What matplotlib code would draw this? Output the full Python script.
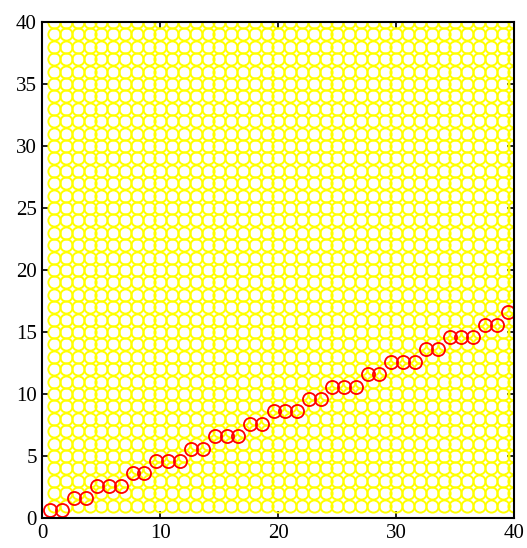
import matplotlib
matplotlib.use("Agg")
import matplotlib.pyplot as plt

# background grid of yellow circles (integer positions 1..40)
grid_x = [1, 2, 3, 4, 5, 6, 7, 8, 9, 10, 11, 12, 13, 14, 15, 16, 17, 18, 19, 20,
          21, 22, 23, 24, 25, 26, 27, 28, 29, 30, 31, 32, 33, 34, 35, 36, 37, 38, 39, 40]
grid_y = [1, 2, 3, 4, 5, 6, 7, 8, 9, 10, 11, 12, 13, 14, 15, 16, 17, 18, 19, 20,
          21, 22, 23, 24, 25, 26, 27, 28, 29, 30, 31, 32, 33, 34, 35, 36, 37, 38, 39, 40]

# red circles along the line
line_x = [0.68, 1.68, 2.67, 3.67, 4.66, 5.66, 6.65, 7.65, 8.64, 9.64,
          10.63, 11.63, 12.62, 13.62, 14.61, 15.61, 16.6, 17.6, 18.59, 19.59,
          20.58, 21.58, 22.57, 23.57, 24.56, 25.56, 26.55, 27.55, 28.54, 29.54,
          30.53, 31.53, 32.52, 33.52, 34.51, 35.51, 36.5, 37.5, 38.49, 39.49]
line_y = [0.62, 0.62, 1.62, 1.62, 2.6, 2.6, 2.6, 3.6, 3.6, 4.6,
          4.6, 4.6, 5.6, 5.6, 6.6, 6.6, 6.6, 7.6, 7.6, 8.6,
          8.6, 8.6, 9.6, 9.6, 10.6, 10.6, 10.6, 11.6, 11.6, 12.6,
          12.6, 12.6, 13.6, 13.6, 14.6, 14.6, 14.6, 15.6, 15.6, 16.6]

xticks = [0, 10, 20, 30, 40]
yticks = [0, 5, 10, 15, 20, 25, 30, 35, 40]

plt.rcParams['font.family'] = ['Liberation Serif', 'DejaVu Serif']

fig = plt.figure(figsize=(5.27, 5.48), dpi=100)
ax = fig.add_axes([0.0806, 0.0547, 0.8956, 0.905])

gx = [x for y in grid_y for x in grid_x]
gy = [y for y in grid_y for x in grid_x]
ax.plot(gx, gy, linestyle='none', marker='o', markersize=8.8,
        markerfacecolor='none', markeredgecolor=(1, 1, 0), markeredgewidth=1.4)
ax.plot(line_x, line_y, linestyle='none', marker='o', markersize=9.4,
        markerfacecolor='none', markeredgecolor=(1, 0, 0), markeredgewidth=1.3)

ax.set_xlim(0, 40)
ax.set_ylim(0, 40)
ax.set_xticks(xticks)
ax.set_yticks(yticks)
ax.tick_params(direction='in', length=5, width=1.2, top=True, right=True,
               labelsize=15, pad=4)
for s in ax.spines.values():
    s.set_linewidth(1.5)

fig.savefig("out.png", dpi=100)
